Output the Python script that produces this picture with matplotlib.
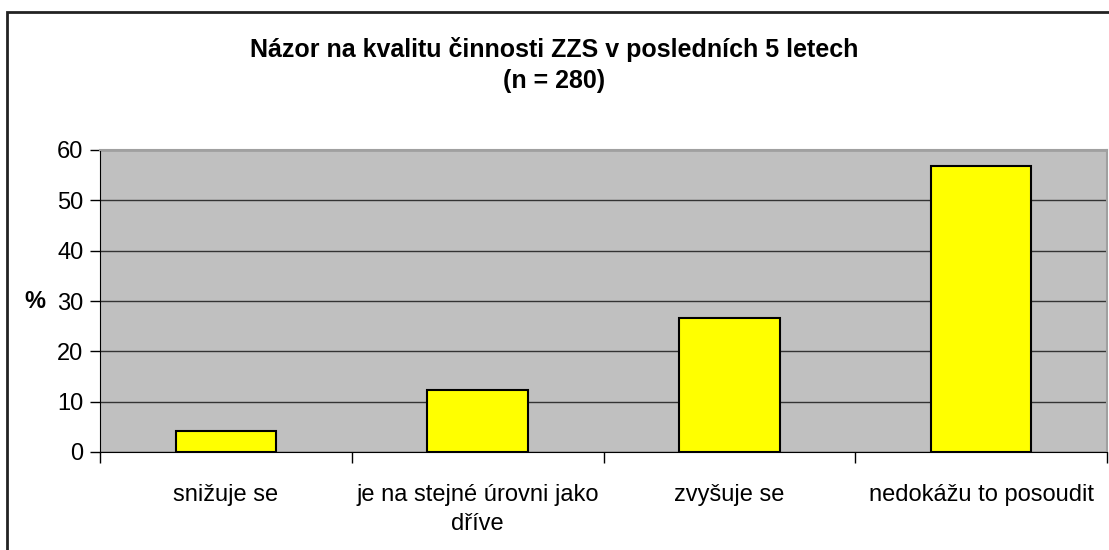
import numpy as np
import matplotlib
matplotlib.use("Agg")
import matplotlib.pyplot as plt
from matplotlib.patches import Rectangle

# data
kategorie = ["snižuje se", "je na stejné úrovni jako\ndříve", "zvyšuje se", "nedokážu to posoudit"]
hodnoty = [4.1, 12.4, 26.6, 56.9]
y_ticks = [0, 10, 20, 30, 40, 50, 60]

plt.rcParams["font.family"] = ["Liberation Sans", "DejaVu Sans"]

fig = plt.figure(figsize=(11.09, 5.5), dpi=100)
ax = fig.add_axes([100 / 1109, 1 - 452 / 550, 1007 / 1109, 302 / 550])

# ramecek grafu
fig.patches.append(Rectangle((7 / 1109, -0.1), 1.2, 1.1 - 12 / 550, transform=fig.transFigure,
                             fill=False, edgecolor="#222222", linewidth=2))

x = np.arange(len(kategorie))
ax.set_facecolor("#C0C0C0")
ax.bar(x, hodnoty, width=0.4, color="#FFFF00", edgecolor="black", linewidth=1.5, zorder=3)

ax.set_xlim(-0.5, len(kategorie) - 0.5)
ax.set_ylim(0, 60)
ax.set_yticks(y_ticks)
ax.yaxis.grid(True, color="#333333", linewidth=1)
ax.set_axisbelow(True)

ax.set_xticks(np.arange(len(kategorie) + 1) - 0.5)
ax.set_xticklabels([])
ax.set_xticks(x, minor=True)
ax.set_xticklabels(kategorie, minor=True, fontsize=17, linespacing=1.4, multialignment="center")
ax.tick_params(axis="x", which="minor", length=0, pad=23)
ax.tick_params(axis="x", which="major", length=8, width=1, color="black")
ax.tick_params(axis="y", length=7, width=1, labelsize=17, pad=5)

for s in ["top", "right"]:
    ax.spines[s].set_color("#A0A0A0")
    ax.spines[s].set_linewidth(1.5)
ax.spines["left"].set_color("black")
ax.spines["bottom"].set_color("black")

ax.set_ylabel("%", rotation=0, fontsize=17, fontweight="bold", labelpad=16, va="center")

fig.text(0.5, 1 - 65 / 550, "Názor na kvalitu činnosti ZZS v posledních 5 letech\n(n = 280)",
         ha="center", va="center", fontsize=18, fontweight="bold", linespacing=1.4)

fig.savefig("out.png", dpi=100)
